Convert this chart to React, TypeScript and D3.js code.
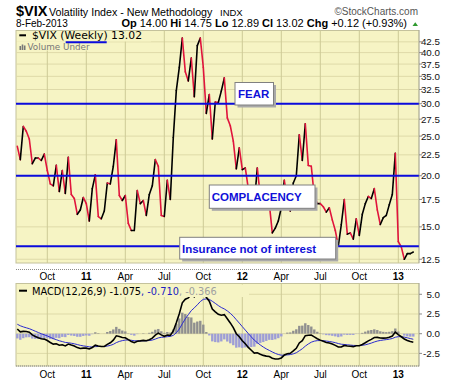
import React from "react";
import * as d3 from "d3";

// ---------- data ----------
const START_WEEK = "2010-07-30"; // first weekly bar (week ending)
const vixWeeklyClose = [
  23.6, 21.9, 26.4, 25.7, 24.6, 21.4, 22.1, 22.1, 21.8, 22.6,
  20.6, 19.1, 18.9, 21.2, 18.3, 20.6, 18.1, 22.2, 18.0, 17.6,
  16.1, 16.5, 17.7, 17.1, 15.5, 18.6, 20.1, 15.9, 15.7, 16.4,
  19.2, 19.1, 21.1, 24.5, 17.9, 17.4, 17.9, 15.3, 14.7, 14.7,
  18.4, 17.1, 17.4, 16.0, 18.0, 18.9, 21.9, 21.1, 16.0, 15.9,
  19.5, 17.5, 24.8, 32.3, 36.8, 43.4, 35.9, 34.1, 38.8, 31.2,
  41.6, 43.4, 36.8, 28.4, 31.6, 24.6, 30.3, 30.2, 32.2, 34.7,
  27.7, 26.5, 24.3, 20.8, 23.4, 20.7, 20.9, 18.6, 18.5, 17.1,
  20.9, 17.8, 17.3, 17.3, 17.1, 14.5, 14.9, 15.5, 16.7, 19.5,
  17.5, 16.4, 19.2, 20.0, 25.2, 21.8, 26.8, 21.2, 21.1, 17.8,
  17.1, 17.1, 16.8, 16.3, 16.7, 15.6, 14.7, 13.45, 15.2, 17.5,
  14.4, 14.5, 14.0, 15.7, 14.3, 16.1, 17.1, 17.8, 17.6, 18.6,
  16.5, 15.2, 15.8, 16.0, 17.0, 18.0, 22.7, 13.8, 13.4, 12.5,
  12.9, 12.9, 13.02,
];
const tickWeekEnding = [
  "2010-10-08", "2011-01-07", "2011-04-08", "2011-07-08", "2011-10-07",
  "2012-01-06", "2012-04-06", "2012-07-06", "2012-10-05", "2013-01-04",
];
const tickLabels = ["Oct", "11", "Apr", "Jul", "Oct", "12", "Apr", "Jul", "Oct", "13"];
const tickIsYear = [false, true, false, false, false, true, false, false, false, true];
const priceTicks = [12.5, 15, 17.5, 20, 22.5, 25, 27.5, 30, 32.5, 35, 37.5, 40, 42.5];
const macdTicks = [-2.5, 0, 2.5, 5];
const levelLines = [30, 20, 13.45];
// MACD(12,26,9) state at the first visible week
const EMA_FAST_START = 26.0;
const EMA_SLOW_START = 25.4;
const SIGNAL_START = 1.2;

// ---------- layout ----------
const W = 460, H = 383;
const L = 16, R = 419;
const MT = 30.5, MB = 263;
const PT = 283.5, PB = 366;
const BG = "#f6f4c4";
const GRID_H = "#dedaa8";
const GRID_V = "#cdca96";
const RED = "#e0143c";
const BLUE = "#0b0bdc";
const SANS = "'Liberation Sans', Arial, sans-serif";
const DV = "'DejaVu Sans', Verdana, sans-serif";

function Box({ x, y, w, h, label, tx, ty }: any) {
  return (
    <g>
      <rect x={x + 2.5} y={y + 2.5} width={w} height={h} fill="#a9a9a9" />
      <rect x={x} y={y} width={w} height={h} fill="#ffffff" stroke="#808080" strokeWidth={1} />
      <text x={tx} y={ty} fontFamily={SANS} fontWeight="bold" fontSize={11.5} fill="#1010d8">{label}</text>
    </g>
  );
}

export default function App() {
  const parse = d3.timeParse("%Y-%m-%d");
  const start = parse(START_WEEK) as Date;
  const weekIdx = (s: string) => Math.round((+(parse(s) as Date) - +start) / (7 * 864e5));

  const n = vixWeeklyClose.length;
  const x = d3.scaleLinear().domain([0, n - 1]).range([17.3, 413.3]);
  const y = d3.scaleLog().domain([12.24, 45.3]).range([MB, MT]);
  const ym = d3.scaleLinear().domain([-4.1, 6.37]).range([PB, PT]);

  // MACD computed from the weekly closes
  const macd: number[] = [], signal: number[] = [], hist: number[] = [];
  let ef = EMA_FAST_START, es = EMA_SLOW_START, sg = SIGNAL_START;
  vixWeeklyClose.forEach((c, i) => {
    if (i > 0) {
      ef += (2 / 13) * (c - ef);
      es += (2 / 27) * (c - es);
    }
    const m = ef - es;
    if (i > 0) sg += 0.2 * (m - sg);
    macd.push(m);
    signal.push(sg);
    hist.push(m - sg);
  });

  const tickX = tickWeekEnding.map((d) => x(weekIdx(d)));

  const segs = vixWeeklyClose.slice(1).map((v, k) => {
    const i = k + 1;
    const p = vixWeeklyClose[i - 1];
    return {
      d: `M${x(i - 1)},${y(p)}L${x(i)},${y(v)}`,
      c: v >= p ? "#000000" : RED,
    };
  });

  const lineM = d3.line<number>().x((_, i) => x(i)).y((v) => ym(v));

  return (
    <svg width={W} height={H} style={{ position: "absolute", left: 0, top: 0, background: "#fff" }}>
      <defs>
        <clipPath id="cpMain"><rect x={L} y={MT} width={R - L} height={MB - MT} /></clipPath>
        <clipPath id="cpMacd"><rect x={L} y={PT} width={R - L} height={PB - PT} /></clipPath>
      </defs>

      {/* header */}
      <text x={16} y={15.5} fontFamily={SANS} fontWeight="bold" fontSize={14.5}>$VIX</text>
      <text x={49} y={15.5} fontFamily={SANS} fontSize={10.7}>Volatility Index - New Methodology</text>
      <text x={220} y={15.5} fontFamily={SANS} fontSize={9.5}>INDX</text>
      <text x={418} y={15} textAnchor="end" fontFamily={SANS} fontSize={10} fill="#555">©StockCharts.com</text>
      <text x={16} y={26.7} fontFamily={SANS} fontSize={10}>8-Feb-2013</text>
      <text x={407} y={26.7} textAnchor="end" fontFamily={SANS} fontSize={11}>
        <tspan fontWeight="bold">Op</tspan> 14.00 <tspan fontWeight="bold">Hi</tspan> 14.75{" "}
        <tspan fontWeight="bold">Lo</tspan> 12.89 <tspan fontWeight="bold">Cl</tspan> 13.02{" "}
        <tspan fontWeight="bold">Chg</tspan> +0.12 (+0.93%)
      </text>
      <path d="M412.5,26 L418,26 L415.25,22.3 Z" fill="#2e9a2e" />

      {/* main panel */}
      <rect x={L} y={MT} width={R - L} height={MB - MT} fill={BG} stroke="#c4c29c" strokeWidth={1} />
      {priceTicks.map((t) => (
        <line key={"hg" + t} x1={L} x2={R} y1={y(t)} y2={y(t)} stroke={GRID_H} strokeWidth={1} />
      ))}
      {tickX.map((tx, i) => (
        <line key={"vg" + i} x1={tx} x2={tx} y1={MT} y2={MB} stroke={GRID_V} strokeWidth={1} />
      ))}
      {/* legend background */}
      <rect x={L + 1} y={MT + 1} width={134} height={10} fill={BG} />
      <rect x={L + 1} y={MT + 11} width={76} height={9} fill={BG} />

      <g clipPath="url(#cpMain)">
        {segs.map((s, i) => (
          <path key={"s" + i} d={s.d} stroke={s.c} strokeWidth={1.6} fill="none" strokeLinecap="round" />
        ))}
      </g>
      {levelLines.map((v) => (
        <line key={"lv" + v} x1={L} x2={R} y1={y(v)} y2={y(v)} stroke={BLUE} strokeWidth={2} />
      ))}

      <Box x={235} y={82.5} w={38.5} h={22.5} label="FEAR" tx={238} ty={98} />
      <Box x={209.3} y={185} w={105.7} h={23.3} label="COMPLACENCY" tx={211.7} ty={200.6} />
      <Box x={179.7} y={237.3} w={156} h={21.7} label="Insurance not of interest" tx={182} ty={253.2} />

      {/* main legend */}
      <line x1={19.3} x2={26} y1={35.3} y2={35.3} stroke="#000" strokeWidth={2} />
      <text x={32} y={39} fontFamily={DV} fontSize={10.8}>$VIX (Weekly) 13.02</text>
      <line x1={65.7} x2={106.7} y1={42.3} y2={42.3} stroke={BLUE} strokeWidth={2} />
      <g fill="#777">
        <rect x={19.5} y={46} width={1.6} height={4} />
        <rect x={21.7} y={44.5} width={1.6} height={5.5} />
        <rect x={23.9} y={45.5} width={1.6} height={4.5} />
      </g>
      <text x={27.5} y={50.2} fontFamily={DV} fontSize={8.8} fill="#777">Volume Under</text>

      {/* right axis main */}
      <line x1={R} x2={R} y1={MT} y2={MB} stroke="#8a8a8a" strokeDasharray="1,1" />
      {priceTicks.map((t) => (
        <g key={"pt" + t}>
          <line x1={R} x2={R + 3} y1={y(t)} y2={y(t)} stroke="#8a8a8a" />
          <text x={440} y={y(t)} dy="0.35em" textAnchor="end" fontFamily={SANS} fontSize={9.8} fill="#111">
            {t.toFixed(1)}
          </text>
        </g>
      ))}

      {/* main x axis */}
      <line x1={L} x2={R} y1={269.5} y2={269.5} stroke="#8a8a8a" strokeDasharray="1,1" />
      {tickX.map((tx, i) => (
        <text key={"xl" + i} x={tx} y={280} textAnchor="middle" fontFamily={SANS} fontSize={10}
          fontWeight={tickIsYear[i] ? "bold" : "normal"}>{tickLabels[i]}</text>
      ))}

      {/* MACD panel */}
      <rect x={L} y={PT} width={R - L} height={PB - PT} fill={BG} stroke="#c4c29c" strokeWidth={1} />
      {macdTicks.map((t) => (
        <line key={"mh" + t} x1={L} x2={R} y1={ym(t)} y2={ym(t)} stroke={GRID_H} />
      ))}
      {tickX.map((tx, i) => (
        <line key={"mv" + i} x1={tx} x2={tx} y1={PT} y2={PB} stroke={GRID_V} />
      ))}
      <g clipPath="url(#cpMacd)">
        {hist.map((h, i) => (
          <rect key={"h" + i} x={x(i) - 1.2} width={2.4}
            y={Math.min(ym(0), ym(h))} height={Math.abs(ym(h) - ym(0))}
            fill={h >= 0 ? "#8f8f8f" : "#9d9dd6"} />
        ))}
        <path d={lineM(signal) || ""} fill="none" stroke="#2a2ad0" strokeWidth={1} />
        <path d={lineM(macd) || ""} fill="none" stroke="#000" strokeWidth={1.6} />
      </g>
      <rect x={L + 1} y={PT + 1} width={232} height={12.5} fill={BG} />
      <line x1={19} x2={27} y1={290.7} y2={290.7} stroke="#000" strokeWidth={2} />
      <text x={32} y={295} fontFamily={DV} fontSize={9.8}>
        <tspan fill="#000">MACD(12,26,9) -1.075</tspan>
        <tspan fill="#2020c0">, -0.710</tspan>
        <tspan fill="#a0a0a0">, -0.366</tspan>
      </text>

      <line x1={R} x2={R} y1={PT} y2={PB} stroke="#8a8a8a" strokeDasharray="1,1" />
      <line x1={L} x2={R} y1={PB} y2={PB} stroke="#8a8a8a" strokeDasharray="1,1" />
      {macdTicks.map((t) => (
        <g key={"mt" + t}>
          <line x1={R} x2={R + 3} y1={ym(t)} y2={ym(t)} stroke="#8a8a8a" />
          <text x={440} y={ym(t)} dy="0.35em" textAnchor="end" fontFamily={SANS} fontSize={9.8} fill="#111">
            {t.toFixed(1)}
          </text>
        </g>
      ))}
      {tickX.map((tx, i) => (
        <text key={"ml" + i} x={tx} y={377.5} textAnchor="middle" fontFamily={SANS} fontSize={10}
          fontWeight={tickIsYear[i] ? "bold" : "normal"}>{tickLabels[i]}</text>
      ))}
    </svg>
  );
}
